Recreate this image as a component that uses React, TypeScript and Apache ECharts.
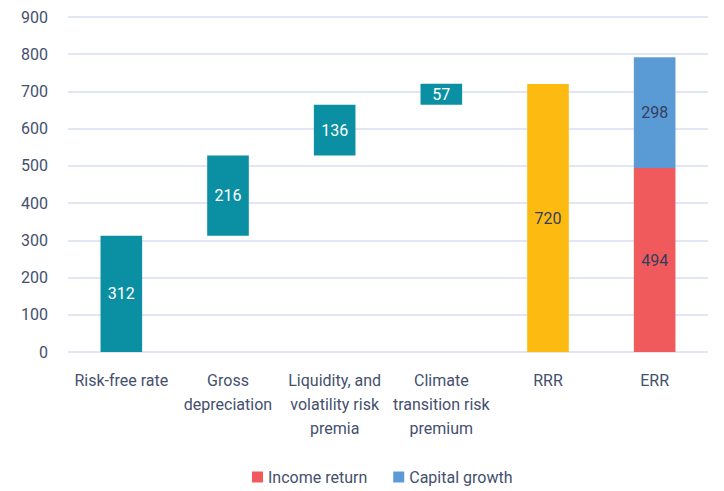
import React, { useEffect, useRef } from "react";
import * as echarts from "echarts";

const categories = [
  "Risk-free rate",
  "Gross\ndepreciation",
  "Liquidity, and\nvolatility risk\npremia",
  "Climate\ntransition risk\npremium",
  "RRR",
  "ERR",
];
const componentValues = [312, 216, 136, 57];
const rrrValue = 720;
const incomeReturn = 494;
const capitalGrowth = 298;
const yTicks = [0, 100, 200, 300, 400, 500, 600, 700, 800, 900];

const FONT = "Roboto, sans-serif";
const TEXT = "#44506E";

export default function App() {
  const ref = useRef<HTMLDivElement>(null);
  useEffect(() => {
    if (!ref.current) return;
    const chart = echarts.init(ref.current, undefined, { renderer: "svg" });
    const n = categories.length;
    const base: (number | string)[] = [];
    let acc = 0;
    componentValues.forEach((v) => {
      base.push(acc);
      acc += v;
    });
    while (base.length < n) base.push("-");
    const deltas: (number | string)[] = [...componentValues];
    while (deltas.length < n) deltas.push("-");
    const rrr = categories.map((_, i) => (i === 4 ? rrrValue : "-"));
    const inc = categories.map((_, i) => (i === 5 ? incomeReturn : "-"));
    const cap = categories.map((_, i) => (i === 5 ? capitalGrowth : "-"));
    const labelDark = { show: true, position: "inside", color: "#333F5F", fontSize: 16, fontFamily: FONT };
    chart.setOption({
      animation: false,
      textStyle: { fontFamily: FONT },
      grid: { left: 68, right: 16, top: 17, bottom: 139 },
      legend: {
        data: ["Income return", "Capital growth"],
        bottom: 1,
        left: 247,
        itemWidth: 11,
        itemHeight: 11,
        itemGap: 26,
        icon: "rect",
        textStyle: { color: TEXT, fontSize: 16, fontFamily: FONT },
      },
      xAxis: {
        type: "category",
        data: categories,
        axisLine: { show: false },
        axisTick: { show: false },
        axisLabel: { color: TEXT, fontSize: 16, lineHeight: 24, margin: 16, interval: 0, fontFamily: FONT },
      },
      yAxis: {
        type: "value",
        min: yTicks[0],
        max: yTicks[yTicks.length - 1],
        interval: 100,
        axisLine: { show: false },
        axisTick: { show: false },
        axisLabel: { color: TEXT, fontSize: 16, margin: 20, fontFamily: FONT },
        splitLine: { lineStyle: { color: "#D9DDF0", width: 1.5 } },
      },
      series: [
        {
          name: "base",
          type: "bar",
          stack: "total",
          data: base,
          itemStyle: { color: "transparent" },
          barWidth: "39%",
          silent: true,
        },
        {
          name: "Component",
          type: "bar",
          stack: "total",
          data: deltas,
          itemStyle: { color: "#0A8FA3" },
          label: { show: true, position: "inside", color: "#FFFFFF", fontSize: 16, fontFamily: FONT },
        },
        {
          name: "RRR",
          type: "bar",
          stack: "total",
          data: rrr,
          itemStyle: { color: "#FDBB12" },
          label: labelDark,
        },
        {
          name: "Income return",
          type: "bar",
          stack: "total",
          data: inc,
          itemStyle: { color: "#F05A5C" },
          label: labelDark,
        },
        {
          name: "Capital growth",
          type: "bar",
          stack: "total",
          data: cap,
          itemStyle: { color: "#5B9BD5" },
          label: labelDark,
        },
      ],
    });
    return () => chart.dispose();
  }, []);
  return <div ref={ref} style={{ width: 724, height: 491, margin: "-8px 0 0 -8px" }} />;
}
